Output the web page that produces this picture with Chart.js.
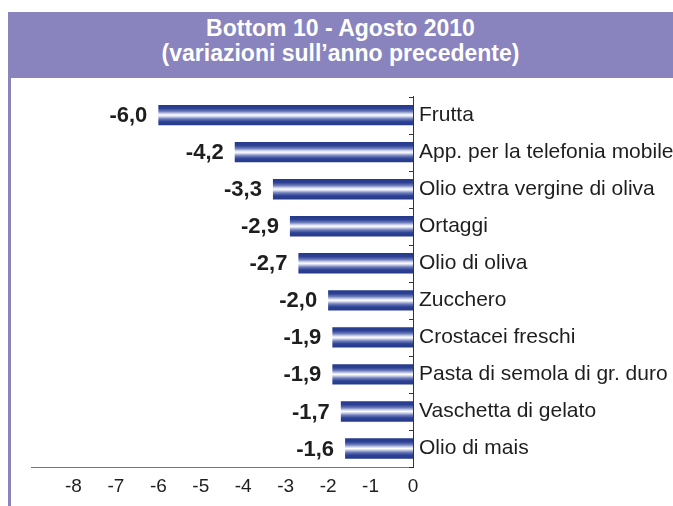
<!DOCTYPE html>
<html>
<head>
<meta charset="utf-8">
<script src="https://cdn.jsdelivr.net/npm/chart.js@4/dist/chart.umd.min.js"></script>
<style>
  body { margin: 0; background: #fff; }
  #wrap { position: relative; width: 673px; height: 506px; overflow: hidden; }
  #band {
    position: absolute; left: 8px; top: 12px; width: 665px; height: 66px;
    background: #8983be; color: #fff; text-align: center;
    font: bold 23px "Liberation Sans", Arial, sans-serif; line-height: 25px;
    padding-top: 4px; box-sizing: border-box;
  }
  #leftLine { position: absolute; left: 8px; top: 78px; width: 3px; height: 428px; background: #8983be; }
  #box { position: absolute; left: 0; top: 78px; width: 673px; height: 428px; }
</style>
</head>
<body>
<div id="wrap">
  <div id="band">Bottom 10 - Agosto 2010<br>(variazioni sull’anno precedente)</div>
  <div id="leftLine"></div>
  <div id="box"><canvas id="bottomChart"></canvas></div>
</div>
<script>
const categories = [
  "Frutta",
  "App. per la telefonia mobile",
  "Olio extra vergine di oliva",
  "Ortaggi",
  "Olio di oliva",
  "Zucchero",
  "Crostacei freschi",
  "Pasta di semola di gr. duro",
  "Vaschetta di gelato",
  "Olio di mais",
];
const variations = [-6.0, -4.2, -3.3, -2.9, -2.7, -2.0, -1.9, -1.9, -1.7, -1.6];
const xTicks = [-8, -7, -6, -5, -4, -3, -2, -1, 0];

const BAR_PCT = 0.55;

const barGradient = (ctx) => {
  const chart = ctx.chart;
  const y = chart.scales && chart.scales.y;
  if (!y || ctx.dataIndex === undefined || !chart.chartArea) return "#2b3d8f";
  const cy = y.getPixelForValue(ctx.dataIndex);
  const h = (y.height / categories.length) * BAR_PCT;
  const g = chart.ctx.createLinearGradient(0, cy - h / 2, 0, cy + h / 2);
  g.addColorStop(0, "#25398b");
  g.addColorStop(0.18, "#2d4294");
  g.addColorStop(0.32, "#6f7ebc");
  g.addColorStop(0.42, "#c9cfe8");
  g.addColorStop(0.5, "#ffffff");
  g.addColorStop(0.58, "#c9cfe8");
  g.addColorStop(0.68, "#6f7ebc");
  g.addColorStop(0.82, "#2d4294");
  g.addColorStop(1, "#25398b");
  return g;
};

const valueLabels = {
  id: "valueLabels",
  afterDatasetsDraw(chart) {
    const c = chart.ctx;
    const meta = chart.getDatasetMeta(0);
    c.save();
    c.font = "bold 22px 'Liberation Sans', Arial, sans-serif";
    c.fillStyle = "#1e1e1e";
    c.textAlign = "right";
    c.textBaseline = "middle";
    meta.data.forEach((bar, i) => {
      const txt = variations[i].toFixed(1).replace(".", ",");
      c.fillText(txt, bar.x - 11, bar.y + 1);
    });
    // small tick marks on the category axis, inside the plot
    const y = chart.scales.y;
    const x0 = chart.scales.x.getPixelForValue(0);
    c.strokeStyle = "#333";
    c.lineWidth = 1;
    for (let i = 0; i <= categories.length; i++) {
      const py = Math.round(y.getPixelForValue(i - 0.5)) + 0.5;
      c.beginPath();
      c.moveTo(x0 - 4, py);
      c.lineTo(x0, py);
      c.stroke();
    }
    c.restore();
  },
};

document.addEventListener("DOMContentLoaded", () => {
  const ctx = document.getElementById("bottomChart").getContext("2d");
  new Chart(ctx, {
    type: "bar",
    data: {
      labels: categories,
      datasets: [
        {
          data: variations,
          backgroundColor: barGradient,
          borderWidth: 0,
          barPercentage: BAR_PCT,
          categoryPercentage: 1,
        },
      ],
    },
    options: {
      indexAxis: "y",
      responsive: true,
      maintainAspectRatio: false,
      animation: false,
      layout: { padding: { left: 31, top: 17, right: 0, bottom: 0 } },
      plugins: { legend: { display: false }, tooltip: { enabled: false }, title: { display: false } },
      scales: {
        x: {
          min: -9,
          max: 0,
          afterFit: (s) => { s.height = 39; },
          afterBuildTicks: (s) => { s.ticks = xTicks.map((v) => ({ value: v })); },
          grid: { display: false, drawTicks: false },
          border: { display: true, color: "#777", width: 1 },
          ticks: {
            padding: 8,
            color: "#1e1e1e",
            font: { family: "'Liberation Sans', Arial, sans-serif", size: 19 },
            callback: (v) => String(v),
          },
        },
        y: {
          position: "right",
          afterFit: (s) => { s.width = 260; },
          grid: { display: false, drawTicks: false },
          border: { display: true, color: "#333", width: 1 },
          ticks: {
            padding: 6,
            color: "#1e1e1e",
            autoSkip: false,
            font: { family: "'Liberation Sans', Arial, sans-serif", size: 21 },
          },
        },
      },
    },
    plugins: [valueLabels],
  });
});
</script>
</body>
</html>
